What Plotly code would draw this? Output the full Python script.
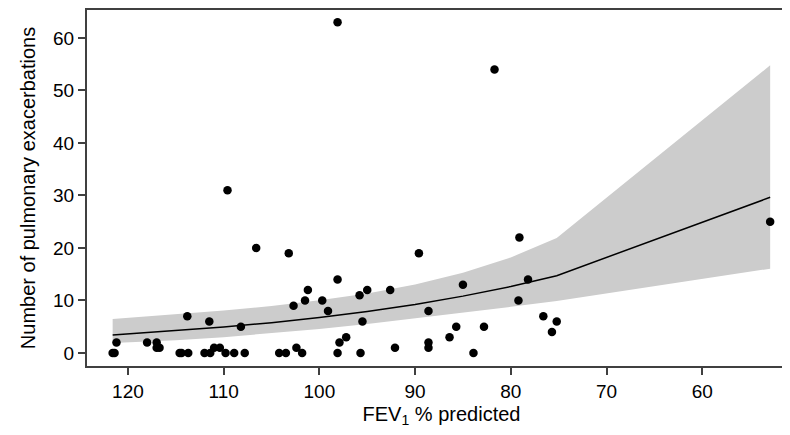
import plotly.graph_objects as go

# Observed data: FEV1 % predicted vs number of pulmonary exacerbations
fev1 = [121.6, 121.4, 121.2, 118.0, 117.0, 117.0, 116.7, 114.6, 114.4, 113.7,
        113.8, 111.5, 112.0, 111.4, 111.0, 110.4, 109.8, 109.6, 108.9, 108.2,
        107.8, 106.6, 104.2, 103.5, 103.2, 102.7, 102.4, 101.8, 101.5, 101.2,
        99.7, 99.1, 98.1, 98.1, 98.1, 97.9, 97.2, 95.8, 95.7, 95.5,
        95.0, 92.6, 92.1, 89.6, 88.6, 88.6, 88.6, 86.4, 85.7, 85.0,
        83.9, 82.8, 81.7, 79.1, 79.2, 78.2, 76.6, 75.7, 75.2, 52.9]
exacerbations = [0, 0, 2, 2, 2, 1, 1, 0, 0, 0,
                 7, 6, 0, 0, 1, 1, 0, 31, 0, 5,
                 0, 20, 0, 0, 19, 9, 1, 0, 10, 12,
                 10, 8, 14, 0, 63, 2, 3, 11, 0, 6,
                 12, 12, 1, 19, 8, 2, 1, 3, 5, 13,
                 0, 5, 54, 22, 10, 14, 7, 4, 6, 25]

# Fitted curve and confidence band
fit_x = [121.6, 115, 110, 105, 100, 95, 90, 85, 80, 75.2, 52.9]
fit_y = [3.43, 4.22, 4.94, 5.78, 6.76, 7.91, 9.25, 10.83, 12.66, 14.72, 29.65]
ci_upper = [6.48, 7.32, 8.07, 8.96, 10.03, 11.35, 13.05, 15.3, 18.2, 21.9, 54.8]
ci_lower = [1.9, 2.43, 3.02, 3.73, 4.56, 5.51, 6.56, 7.66, 8.79, 9.88, 16.06]

x_ticks = [120, 110, 100, 90, 80, 70, 60]
y_ticks = [0, 10, 20, 30, 40, 50, 60]

FONT = "Liberation Sans, Arial, Helvetica, sans-serif"

fig = go.Figure()
fig.add_trace(go.Scatter(
    x=fit_x + fit_x[::-1], y=ci_upper + ci_lower[::-1],
    fill="toself", fillcolor="rgb(204,204,204)", line=dict(width=0),
    mode="lines", hoverinfo="skip", showlegend=False))
fig.add_trace(go.Scatter(
    x=fit_x, y=fit_y, mode="lines",
    line=dict(color="black", width=1.5), showlegend=False))
fig.add_trace(go.Scatter(
    x=fev1, y=exacerbations, mode="markers",
    marker=dict(color="black", size=8.5), showlegend=False))

axis_common = dict(
    showline=True, linecolor="#404040", linewidth=2, mirror=True,
    ticks="outside", ticklen=7, tickwidth=1.5, tickcolor="#404040",
    showgrid=False, zeroline=False, automargin=False,
    tickfont=dict(family=FONT, size=19, color="black"),
)

fig.update_layout(
    width=790, height=435,
    margin=dict(l=79, r=2, t=2, b=77),
    plot_bgcolor="white", paper_bgcolor="white",
    font=dict(family=FONT, color="black"),
    xaxis=dict(range=[124.28, 50.2], tickvals=x_ticks,
               title=dict(text="FEV<sub>1</sub> % predicted", font=dict(family=FONT, size=20, color="black"), standoff=6),
               **axis_common),
    yaxis=dict(range=[-2.48, 65.33], tickvals=y_ticks,
               title=dict(text="Number of pulmonary exacerbations", font=dict(family=FONT, size=20, color="black"), standoff=12),
               **axis_common),
)

fig.write_html("out.html")
